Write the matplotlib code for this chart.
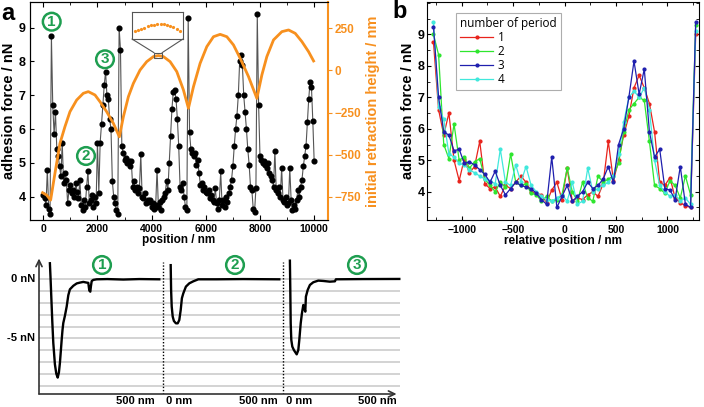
import numpy as np
import matplotlib
matplotlib.use('Agg')
import matplotlib.pyplot as plt
from matplotlib.patches import ConnectionPatch, Rectangle
from matplotlib.ticker import MultipleLocator

plt.rcParams['font.family'] = ['Liberation Sans', 'DejaVu Sans']
plt.rcParams['font.weight'] = 'bold'

# ---------------- data: panel a ----------------
force_a = [
    4.05, 3.95, 3.75, 4.8, 3.65, 3.5, 8.75, 6.7, 5.85, 6.5,
    5.4, 5.2, 4.9, 4.6, 5.6, 4.4, 4.7, 4.5, 3.8, 4.2,
    4.35, 4.1, 4.2, 4.0, 4.4, 4.15, 3.95, 4.5, 3.75, 3.6,
    3.9, 3.7, 4.3, 4.75, 3.8, 3.9, 4.05, 3.7, 4.0, 3.8,
    5.6, 4.1, 5.6, 6.15, 6.7, 7.3, 7.7, 7.0, 6.9, 6.3,
    6.0, 4.45, 4.0, 3.8, 3.6, 3.5, 9.0, 8.35, 5.5, 5.3,
    5.1, 5.15, 5.0, 5.05, 4.9, 5.05, 4.3, 4.45, 4.2, 4.3,
    4.1, 4.25, 5.25, 4.0, 3.95, 4.1, 3.8, 3.9, 3.85, 3.9,
    3.7, 3.8, 3.65, 3.75, 4.8, 3.7, 3.85, 3.6, 3.9, 4.0,
    4.1, 4.45, 4.2, 5.0, 5.8, 6.6, 7.1, 7.15, 6.9, 6.3,
    5.5, 4.3, 4.2, 4.4, 4.0, 3.7, 3.6, 9.3, 5.9, 5.4,
    5.3, 5.2, 5.3, 4.95, 5.1, 4.7, 4.35, 4.4, 4.2, 4.3,
    4.15, 4.1, 4.2, 3.95, 4.05, 3.9, 3.85, 4.25, 3.8, 3.65,
    3.9, 4.75, 3.75, 3.9, 3.7, 4.0, 3.85, 4.1, 4.3, 4.5,
    4.9, 5.5, 6.0, 6.4, 7.0, 8.0, 8.2, 7.9, 7.0, 6.5,
    6.0, 5.4, 4.95, 4.3, 4.2, 3.65, 3.55, 4.25, 9.4, 6.7,
    5.2, 5.1, 5.0, 5.05, 4.95, 4.85, 5.0, 4.7, 4.6, 4.5,
    4.3, 5.35, 4.2, 4.1, 4.3, 4.0, 4.85, 3.9, 3.85, 4.0,
    3.75, 3.8, 4.85, 3.9, 3.6, 3.75, 3.65, 3.9, 4.2, 4.0,
    4.3, 4.5, 4.9, 5.2, 5.5, 6.2, 6.9, 7.4, 7.25, 6.25,
    5.05,
]
pos_a = np.linspace(0, 10000, len(force_a))

height_x = [-25, 123, 271, 431, 616, 800, 986, 1232, 1478, 1663, 1910, 2094, 2340,
            2587, 2809, 2957, 3142, 3326, 3572, 3819, 4066, 4250, 4435, 4682, 4928,
            5174, 5359, 5544, 5790, 6037, 6283, 6530, 6776, 7022, 7268, 7577, 7885,
            8070, 8254, 8500, 8808, 9055, 9301, 9547, 9794, 9979]
height_y = [-726, -740, -770, -611, -433, -334, -245, -176, -136, -126, -146, -186, -245,
            -314, -394, -275, -156, -77, 2, 52, 82, 88, 82, 52, -7,
            -116, -225, -97, 42, 141, 200, 214, 200, 151, 72, -37, -166,
            -27, 82, 181, 230, 240, 220, 171, 111, 56]

inset_x = [4107, 4125, 4144, 4162, 4181, 4200, 4218, 4237, 4256, 4274, 4293, 4312, 4330, 4349, 4368]
inset_y = [81.5, 83, 84.5, 86, 87.5, 88.5, 89.5, 90, 90.3, 90, 89.5, 88, 86.5, 84.5, 82]

# ---------------- data: panel b ----------------
rel_pos = np.linspace(-1275, 1275, 52)
period_1 = [8.75, 6.6, 5.8, 6.5, 5.0, 4.35, 5.05, 4.6, 4.8, 5.6,
            4.25, 4.1, 4.15, 3.85, 4.2, 4.1, 4.3, 4.5, 4.3, 4.0,
            3.95, 3.9, 3.65, 4.05, 4.3, 3.75, 4.75, 3.7, 3.8, 3.75,
            3.9, 4.0, 3.85, 4.25, 5.6, 4.35, 5.0, 5.8, 6.4, 7.3,
            7.7, 7.3, 6.8, 5.9, 4.3, 4.2, 4.45, 3.8, 3.65, 3.55,
            3.5, 9.0]
period_2 = [9.0, 8.35, 5.5, 5.05, 6.15, 5.0, 5.1, 4.75, 4.95, 5.05,
            4.4, 4.2, 4.0, 4.3, 4.15, 5.2, 4.3, 4.2, 4.25, 3.95,
            3.9, 3.7, 3.85, 3.7, 3.75, 3.9, 4.75, 4.0, 3.7, 4.3,
            3.8, 3.7, 4.5, 4.3, 4.4, 4.5, 4.9, 5.9, 6.6, 6.8,
            7.0, 6.9, 5.6, 4.2, 4.1, 3.95, 4.35, 4.2, 3.8, 4.5,
            3.9, 9.3]
period_3 = [9.25, 7.0, 5.9, 5.8, 5.3, 5.35, 4.9, 4.95, 4.85, 4.7,
            4.55, 4.3, 4.65, 4.2, 3.9, 4.1, 4.3, 4.2, 4.15, 4.1,
            3.95, 3.75, 3.6, 5.1, 3.5, 3.85, 4.2, 3.7, 3.85, 4.0,
            4.3, 4.1, 4.2, 4.4, 4.8, 4.3, 5.5, 6.0, 7.0, 8.15,
            7.1, 7.9, 5.9, 5.1, 5.35, 4.1, 4.05, 3.75, 4.8, 3.6,
            3.5, 9.4]
period_4 = [9.4, 6.7, 6.3, 5.2, 5.1, 4.9, 4.85, 4.7, 4.6, 4.5,
            4.4, 4.35, 4.25, 5.35, 4.3, 4.2, 4.85, 4.3, 4.8, 4.2,
            4.0, 3.85, 3.75, 3.7, 3.8, 3.9, 3.7, 4.3, 3.6, 3.7,
            4.75, 4.0, 4.1, 4.2, 4.3, 4.5, 5.2, 6.2, 7.0, 7.2,
            7.0, 7.3, 6.6, 5.0, 4.2, 4.0, 3.85, 3.9, 3.7, 3.8,
            3.6, 9.1]
period_labels = ['1', '2', '3', '4']

# ---------------- data: force curves ----------------
curve1_x = [33, 36, 40, 45, 50, 58, 65, 72, 78, 83, 88, 92, 96, 100, 108, 117, 125, 133,
            150, 167, 183, 200, 217, 225, 230, 235, 238, 242, 250, 267, 320, 400, 480, 580]
curve1_f = [1.36, 0.2, -1.5, -3.6, -5.4, -7.2, -8.0, -8.33, -7.9, -7.1, -6.0, -5.1, -4.3,
            -3.7, -3.1, -2.3, -1.35, -0.85, -0.55, -0.35, -0.28, -0.22, -0.28, -0.3,
            -0.95, -1.05, -0.6, -0.15, -0.05, 0.0, 0.02, -0.02, 0.02, 0.0]
curve2_x = [37, 39, 42, 47, 53, 63, 72, 80, 87, 93, 100, 113, 130, 150, 175, 267, 400, 580]
curve2_f = [1.2, -0.9, -2.3, -3.16, -3.53, -3.73, -3.73, -3.45, -2.6, -1.6, -1.19, -0.62,
            -0.34, -0.17, 0.0, 0.0, 0.02, 0.0]
curve3_x = [33, 35, 37, 40, 45, 53, 67, 75, 80, 87, 93, 100, 105, 110, 113, 122, 133, 150,
            175, 200, 233, 258, 263, 400, 580]
curve3_f = [1.58, -0.9, -3.73, -5.14, -5.7, -6.0, -6.36, -6.0, -5.14, -3.73, -2.9, -2.18,
            -2.46, -2.74, -1.47, -0.9, -0.48, -0.25, -0.11, -0.14, -0.2, -0.17, 0.0, 0.02, 0.03]

# ---------------- figure ----------------
W, H = 704, 407
fig = plt.figure(figsize=(W / 100, H / 100), dpi=100)


def ax_px(l, t, r, b):
    return fig.add_axes([l / W, 1 - b / H, (r - l) / W, (b - t) / H])


ORANGE = '#f7901e'
GREEN = '#1e9e50'
TICKFS = 7.5

# ---- panel a ----
axa = ax_px(30, 2, 327.7, 220)
axa.plot(pos_a, force_a, color='#555555', lw=0.8, marker='o', ms=3.4,
         mfc='black', mec='black', zorder=2)
axa.set_xlim(-490, 10500)
axa.set_ylim(3.31, 9.76)
axa.set_xticks(range(0, 10001, 2000))
axa.xaxis.set_minor_locator(MultipleLocator(1000))
axa.set_yticks(range(4, 10))
axa.tick_params(axis='x', which='both', direction='in', top=True, labelsize=TICKFS, pad=3)
axa.tick_params(axis='x', which='major', length=3.5)
axa.tick_params(axis='x', which='minor', length=2)
axa.tick_params(axis='y', direction='in', length=3, labelsize=TICKFS + 1.5, pad=3)
axa.spines['right'].set_visible(False)
axa.set_xlabel('position / nm', fontsize=8.5, fontweight='bold', labelpad=0)
axa.set_ylabel('adhesion force / nN', fontsize=10.5, fontweight='bold', labelpad=2)

axr = axa.twinx()
axr.plot(height_x, height_y, color=ORANGE, lw=2.0, zorder=3)
axr.set_ylim(-888, 406)
axr.set_yticks([-750, -500, -250, 0, 250])
axr.tick_params(axis='y', colors=ORANGE, direction='out', length=3, labelsize=TICKFS + 1, pad=2)
for lab in axr.get_yticklabels():
    lab.set_fontweight('bold')
axr.spines['right'].set_color(ORANGE)
axr.spines['right'].set_linewidth(1.5)
axr.set_ylabel('initial retraction height / nm', color=ORANGE, fontsize=10.5,
               fontweight='bold', labelpad=3)
axr.add_patch(Rectangle((4090, 72), 295, 33, fill=False, ec='#555555', lw=0.8, zorder=4))

ins = ax_px(132, 12, 183, 39)
ins.plot(inset_x, inset_y, 'o', color=ORANGE, ms=2.3, mec='none')
ins.set_xlim(4090, 4385)
ins.set_ylim(72, 105)
ins.set_xticks([])
ins.set_yticks([])
for sp in ins.spines.values():
    sp.set_color('#555555')
    sp.set_linewidth(0.8)
for xa, xb in [(0, 4090), (1, 4385)]:
    cp = ConnectionPatch(xyA=(xa, 0), coordsA=ins.transAxes, xyB=(xb, 105),
                         coordsB=axr.transData, color='#555555', lw=0.8)
    fig.add_artist(cp)

# ---- panel b ----
axb = ax_px(427.3, 2, 699.3, 220)
bcolors = ['#e8231c', '#2ee62e', '#1f1fae', '#40e8dc']
series_b = [period_1, period_2, period_3, period_4]
handles = []
for k, (ser, col) in enumerate(zip(series_b, bcolors)):
    z = {0: 2, 1: 3, 2: 5, 3: 4}[k]
    (ln,) = axb.plot(rel_pos, ser, color=col, lw=0.9, marker='o', ms=2.0, zorder=z)
    handles.append(ln)
axb.set_xlim(-1335, 1310)
axb.set_ylim(3.10, 10.03)
axb.set_xticks([-1000, -500, 0, 500, 1000])
axb.xaxis.set_minor_locator(MultipleLocator(250))
axb.set_yticks(range(4, 10))
axb.yaxis.set_minor_locator(MultipleLocator(0.5))
axb.tick_params(which='both', direction='in', top=True, right=True, labelsize=TICKFS)
axb.tick_params(axis='y', labelsize=TICKFS + 1.5, pad=2)
axb.tick_params(which='major', length=3)
axb.tick_params(which='minor', length=2)
axb.set_xlabel('relative position / nm', fontsize=8.5, fontweight='bold', labelpad=0)
axb.set_ylabel('adhesion force / nN', fontsize=10.5, fontweight='bold', labelpad=2)
legprop = {'family': ['Open Sans', 'DejaVu Sans'], 'weight': 'normal', 'size': 8.5}
leg = axb.legend(handles, period_labels, title='number of period', loc='upper left',
                 bbox_to_anchor=(0.105, 0.95), borderaxespad=0, frameon=True,
                 fancybox=False, edgecolor='#999999', prop=legprop,
                 title_fontproperties=legprop, handlelength=2.8, labelspacing=0.08,
                 borderpad=0.35, handletextpad=0.4)
leg._legend_box.align = 'left'
leg.get_frame().set_linewidth(0.8)

# ---- panel letters and circled numbers ----
fig.text(1 / W, 1 - 2 / H, 'a', fontsize=17, fontweight='bold', va='top', ha='left')
fig.text(392 / W, 1 - 0 / H, 'b', fontsize=17, fontweight='bold', va='top', ha='left')


def circled(x, y, s):
    fig.text(x / W, 1 - y / H, s, fontsize=11, fontweight='bold', color=GREEN,
             ha='center', va='center',
             bbox=dict(boxstyle='circle,pad=0.12', fc='white', ec=GREEN, lw=1.8), zorder=10)


circled(51.7, 21.7, '1')
circled(86, 156, '2')
circled(105, 59.3, '3')
circled(102, 265, '1')
circled(235, 265, '2')
circled(357, 265, '3')

# ---- lower panel: force curves ----
ax3 = ax_px(39, 255, 402, 394)
ax3.set_xlim(-21.5, 1793.5)
ax3.set_ylim(-9.72, 2.06)
ax3.axis('off')
ax3.hlines(range(0, -10, -1), -21.5, 1783, color='#c8c8c8', lw=1.1, zorder=1)
ax3.vlines([600, 1200], -9.72, 1.47, colors='black', linestyles=(0, (1, 1.3)), lw=1.0, zorder=2)
for off, cx, cf in [(0, curve1_x, curve1_f), (600, curve2_x, curve2_f), (1200, curve3_x, curve3_f)]:
    ax3.plot(np.asarray(cx) + off, cf, color='black', lw=1.7, zorder=3)
arrowkw = dict(arrowstyle='->,head_length=0.45,head_width=0.22', lw=1.2, color='#333333',
               shrinkA=0, shrinkB=0)
ax3.annotate('', xy=(0, 0.975), xytext=(0, 0), xycoords='axes fraction',
             textcoords='axes fraction', arrowprops=arrowkw)
ax3.annotate('', xy=(0.985, 0), xytext=(0, 0), xycoords='axes fraction',
             textcoords='axes fraction', arrowprops=arrowkw)
lowfs = 8
ax3.text(-41, 0, '0 nN', ha='right', va='center', fontsize=lowfs, fontweight='bold', clip_on=False)
ax3.text(-41, -5, '-5 nN', ha='right', va='center', fontsize=lowfs, fontweight='bold', clip_on=False)
for xr in [558, 1173, 1768]:
    ax3.text(xr, -10.3, '500 nm', ha='right', va='center', fontsize=lowfs, fontweight='bold', clip_on=False)
for xl in [613, 1213]:
    ax3.text(xl, -10.3, '0 nm', ha='left', va='center', fontsize=lowfs, fontweight='bold', clip_on=False)

fig.savefig('out.png', dpi=100)
